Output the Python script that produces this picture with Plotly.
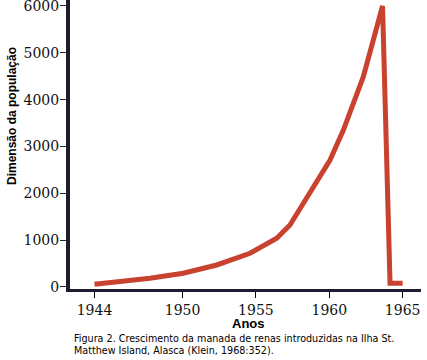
import plotly.graph_objects as go

# Data
anos = [1944, 1947.78, 1950.05, 1952.33, 1954.60, 1956.42, 1957.32, 1958.91,
        1960.05, 1960.96, 1962.32, 1963.63, 1964.14, 1965]
populacao = [58, 186, 293, 470, 720, 1040, 1324, 2142,
             2712, 3352, 4491, 6000, 79, 79]

x_ticks = [1944, 1950, 1955, 1960, 1965]
y_ticks = [0, 1000, 2000, 3000, 4000, 5000, 6000]

titulo_y = "Dimensão da população"
titulo_x = "Anos"
legenda = ("Figura 2. Crescimento da manada de renas introduzidas na Ilha St.<br>"
           "Matthew Island, Alasca (Klein, 1968:352).")

fig = go.Figure()
fig.add_trace(go.Scatter(
    x=anos, y=populacao, mode="lines",
    line=dict(color="#c9412f", width=5),
    hoverinfo="skip", showlegend=False,
))

axis_color = "#1c1c30"
tick_font = dict(family="DejaVu Serif", size=14, color="#111111")

fig.update_layout(
    width=427, height=360,
    margin=dict(l=70, r=6, t=0, b=71, autoexpand=False),
    paper_bgcolor="white", plot_bgcolor="white",
    xaxis=dict(
        range=[1942.33, 1966.25], tickvals=x_ticks,
        ticktext=[str(v) for v in x_ticks],
        showgrid=False, zeroline=False, automargin=False,
        showline=True, linecolor=axis_color, linewidth=3,
        ticks="outside", ticklen=6, tickwidth=1, tickcolor="#000000",
        ticklabeloverflow="allow",
        tickfont=tick_font,
    ),
    yaxis=dict(
        range=[-43, 6128], tickvals=y_ticks,
        ticktext=[str(v) for v in y_ticks],
        showgrid=False, zeroline=False, automargin=False,
        showline=True, linecolor=axis_color, linewidth=4,
        ticks="outside", ticklen=6, tickwidth=1, tickcolor="#222222",
        ticklabelstandoff=-2, ticklabeloverflow="allow",
        tickfont=tick_font,
    ),
    annotations=[
        dict(text="<b>" + titulo_y + "</b>", xref="paper", yref="paper",
             x=(12 - 70) / 351, y=(289 - 116) / 289, textangle=-90,
             showarrow=False, xanchor="center", yanchor="middle",
             font=dict(family="Liberation Sans", size=12, color="#000000")),
        dict(text="<b>" + titulo_x + "</b>", xref="paper", yref="paper",
             x=(248 - 70) / 351, y=(289 - 323) / 289,
             showarrow=False, xanchor="center", yanchor="middle",
             font=dict(family="Liberation Sans", size=13, color="#000000")),
        dict(text=legenda, xref="paper", yref="paper",
             x=(72 - 70) / 351, y=(289 - 331) / 289, align="left",
             showarrow=False, xanchor="left", yanchor="top",
             font=dict(family="DejaVu Sans", size=9.6, color="#000000")),
    ],
)

fig.write_html(
    "out.html",
    config={"displayModeBar": False},
    post_script="document.body.style.margin='0';document.body.style.overflow='hidden';",
)
